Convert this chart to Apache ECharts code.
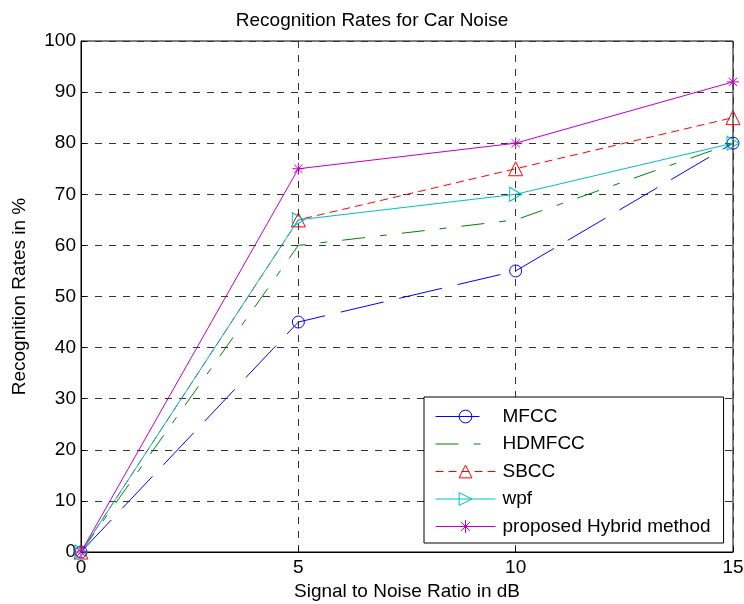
<!DOCTYPE html>
<html><head><meta charset="utf-8">
<script src="https://cdn.jsdelivr.net/npm/echarts@6/dist/echarts.min.js"></script>
<style>html,body{margin:0;padding:0;background:#fff}#c{width:744px;height:604px}</style>
</head><body><div id="c"></div>
<script>
const snr = [0, 5, 10, 15];
const mfcc = [0, 45, 55, 80];
const hdmfcc = [0, 60, 65, 80];
const sbcc = [0, 65, 75, 85];
const wpf = [0, 65, 70, 80];
const hybrid = [0, 75, 80, 92];
const xTicks = [0, 5, 10, 15];
const yTicks = [0,10,20,30,40,50,60,70,80,90,100];
const names = ['MFCC','HDMFCC','SBCC','wpf','proposed Hybrid method'];
const colors = ['#0000ff','#008000','#ff0000','#00bfbf','#bf00bf'];
const dashes = [[44,16],[23,15,7,15],[8,5],'solid','solid'];

const F = 'Liberation Sans';
const FS = 19;
const pair = a => snr.map((x,i)=>[x,a[i]]);
const star = 'path://M0,-10L0,10M-10,0L10,0M-7,-7L7,7M-7,7L7,-7';
const rtri = 'path://M0,0L17,10L0,20Z';
function s(i, data, symbol, size){
  const color = colors[i];
  return {name:names[i], type:'line', data: pair(data), symbol: symbol||'circle', symbolSize: size||12,
    showSymbol: !!symbol, animation:false,
    lineStyle:{color, width:1, type: dashes[i]},
    itemStyle:{color:'rgba(0,0,0,0)', borderColor: symbol ? color : 'rgba(0,0,0,0)', borderWidth:1}};
}
const chart = echarts.init(document.getElementById('c'));
chart.setOption({
  animation:false,
  title:{text:'Recognition Rates for Car Noise', left:'center', top:6,
    textStyle:{fontFamily:F, fontSize:FS, fontWeight:'normal', color:'#000'}},
  grid:{left:81, right:11, top:41, bottom:52, show:true, borderColor:'#000', borderWidth:1,
    outerBoundsMode:'none', containLabel:false},
  xAxis:{type:'value', min:0, max:15, interval:5, name:'Signal to Noise Ratio in dB',
    nameLocation:'middle', nameGap:30, nameTextStyle:{fontFamily:F, fontSize:FS, color:'#000'},
    axisLine:{lineStyle:{color:'#000'}}, axisTick:{inside:true, length:5, lineStyle:{color:'#000'}},
    axisLabel:{fontFamily:F, fontSize:FS, color:'#000', margin:6, formatter:v=>xTicks.includes(v)?String(v):''},
    splitLine:{show:true, lineStyle:{color:'#333', type:[7,7], width:1}}},
  yAxis:{type:'value', min:0, max:100, interval:10, name:'Recognition Rates in %',
    nameLocation:'middle', nameGap:52, nameTextStyle:{fontFamily:F, fontSize:FS, color:'#000'},
    axisLine:{lineStyle:{color:'#000'}}, axisTick:{inside:true, length:5, lineStyle:{color:'#000'}},
    axisLabel:{fontFamily:F, fontSize:FS, color:'#000', margin:5, formatter:v=>yTicks.includes(v)?String(v):''},
    splitLine:{show:true, lineStyle:{color:'#333', type:[7,7], width:1}}},
  legend:{orient:'vertical', left:424, top:397,
    backgroundColor:'#fff', borderColor:'#000', borderWidth:1, padding:[10,13,7,11],
    itemWidth:60, itemHeight:16, itemGap:8.5, align:'left',
    itemStyle:{borderWidth:1},
    textStyle:{fontFamily:F, fontSize:FS, color:'#000', padding:[0,0,0,2]},
    data: names.map((n,i)=> ({name:n, lineStyle:{color:colors[i], width:1, type:dashes[i], opacity:1}}))},
  series:[
    s(0, mfcc, 'circle', 12),
    s(1, hdmfcc, null),
    s(2, sbcc, 'triangle', 14),
    s(3, wpf, rtri, [12,14]),
    s(4, hybrid, star, 12)
  ]
});
</script></body></html>
